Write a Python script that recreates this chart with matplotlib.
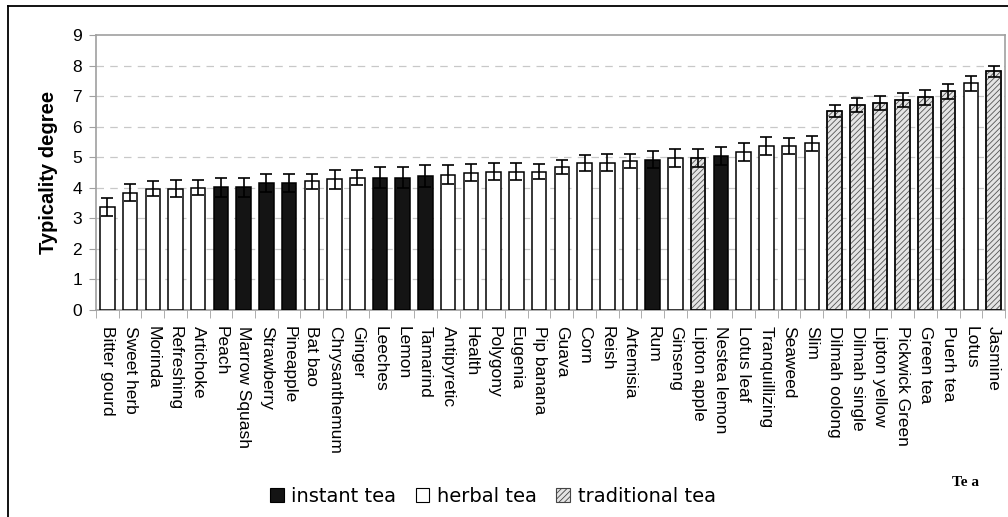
import matplotlib
matplotlib.use("Agg")
import matplotlib.pyplot as plt
from matplotlib.patches import Patch
import numpy as np

plt.rcParams['font.family'] = ['Liberation Sans', 'DejaVu Sans']
plt.rcParams['hatch.linewidth'] = 0.6

teas = ["Bitter gourd", "Sweet herb", "Morinda", "Refreshing", "Artichoke", "Peach",
        "Marrow Squash", "Strawberry", "Pineapple", "Bat bao", "Chrysanthemum", "Ginger",
        "Leeches", "Lemon", "Tamarind", "Antipyretic", "Health", "Polygony", "Eugenia",
        "Pip banana", "Guava", "Corn", "Reish", "Artemisia", "Rum", "Ginseng",
        "Lipton apple", "Nestea lemon", "Lotus leaf", "Tranquillizing", "Seaweed", "Slim",
        "Dilmah oolong", "Dilmah single", "Lipton yellow", "Pickwick Green", "Green tea",
        "Puerh tea", "Lotus", "Jasmine"]

typicality = [3.37, 3.83, 3.97, 3.97, 4.00, 4.01, 4.01, 4.16, 4.16, 4.21, 4.27, 4.33,
              4.33, 4.33, 4.38, 4.43, 4.49, 4.53, 4.53, 4.53, 4.68, 4.81, 4.82, 4.87,
              4.92, 4.97, 4.97, 5.03, 5.16, 5.37, 5.37, 5.46, 6.52, 6.71, 6.77, 6.87,
              6.96, 7.16, 7.42, 7.81]

errors = [0.30, 0.28, 0.24, 0.27, 0.24, 0.32, 0.32, 0.30, 0.30, 0.25, 0.30, 0.25,
          0.35, 0.35, 0.35, 0.30, 0.28, 0.28, 0.28, 0.25, 0.23, 0.26, 0.28, 0.24,
          0.28, 0.30, 0.30, 0.29, 0.30, 0.30, 0.25, 0.25, 0.20, 0.23, 0.24, 0.24,
          0.24, 0.24, 0.24, 0.19]

# I = instant tea, H = herbal tea, T = traditional tea
tea_type = ["H", "H", "H", "H", "H", "I", "I", "I", "I", "H", "H", "H",
            "I", "I", "I", "H", "H", "H", "H", "H", "H", "H", "H", "H",
            "I", "H", "T", "I", "H", "H", "H", "H", "T", "T", "T", "T",
            "T", "T", "H", "T"]

type_labels = {"I": "instant tea", "H": "herbal tea", "T": "traditional tea"}
type_style = {
    "I": dict(facecolor="#141414", hatch=None),
    "H": dict(facecolor="white", hatch=None),
    "T": dict(facecolor="#e4e4e4", hatch="//////"),
}

fig = plt.figure(figsize=(10.08, 5.17), dpi=100)

# outer frame (top and left edges)
fig.add_artist(plt.Line2D([0.008, 1.0], [0.988, 0.988], color="black", lw=1.3,
                          transform=fig.transFigure))
fig.add_artist(plt.Line2D([0.008, 0.008], [0.0, 0.988], color="black", lw=1.3,
                          transform=fig.transFigure))

ax = fig.add_axes([0.0952, 0.401, 0.9018, 0.531])

x = np.arange(len(teas))
for xi, v, e, t in zip(x, typicality, errors, tea_type):
    st = type_style[t]
    bar = ax.bar(xi, v, width=0.64, facecolor=st["facecolor"], edgecolor="black",
                 linewidth=1.1, hatch=st["hatch"], zorder=3)
    if st["hatch"]:
        bar[0].set_edgecolor("#555555")
        # redraw outline in black over the hatch
        ax.bar(xi, v, width=0.64, facecolor="none", edgecolor="black",
               linewidth=1.1, zorder=3.5)
ax.errorbar(x, typicality, yerr=errors, fmt="none", ecolor="black",
            elinewidth=1.2, capsize=4.5, capthick=1.2, zorder=4)

ax.set_xlim(-0.5, len(teas) - 0.5)
ax.set_ylim(0, 9)
ax.set_yticks(range(0, 10))
ax.tick_params(axis="y", labelsize=12.5, length=5, color="#a0a0a0", pad=5)

ax.set_xticks(x)
ax.set_xticklabels(teas, rotation=-90, fontsize=12.5, va="top", ha="center")
ax.tick_params(axis="x", which="major", length=0, pad=12)
ax.set_xticks(np.arange(-0.5, len(teas), 1.0), minor=True)
ax.tick_params(axis="x", which="minor", length=6, color="#a0a0a0")

for y in range(1, 9):
    ax.axhline(y, color="#c8c8c8", lw=0.9, ls=(0, (6, 5)), zorder=1)

for s in ax.spines.values():
    s.set_color("#a0a0a0")
    s.set_linewidth(1.2)

ax.set_ylabel("Typicality degree", fontsize=14.5, fontweight="bold", labelpad=10)

fig.text(0.958, 0.066, "Te a", family="Liberation Serif", fontweight="bold",
         fontsize=11, ha="center", va="center")

handles = []
for k in ["I", "H", "T"]:
    st = type_style[k]
    handles.append(Patch(facecolor=st["facecolor"], edgecolor="black" if k != "T" else "#444444",
                         hatch=st["hatch"], linewidth=0.8, label=type_labels[k]))
fig.legend(handles=handles, loc="center", bbox_to_anchor=(0.489, 0.04), ncol=3,
           frameon=False, prop={"family": "DejaVu Sans", "size": 14},
           handlelength=0.7, handleheight=0.7,
           handletextpad=0.4, columnspacing=1.0, borderaxespad=0)

fig.savefig("out.png", dpi=100)
